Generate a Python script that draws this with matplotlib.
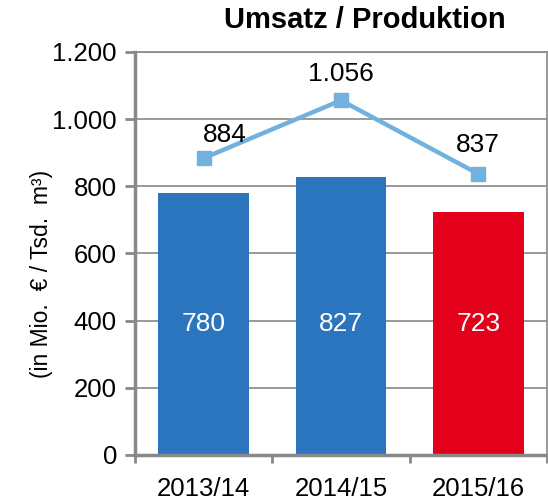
import matplotlib.pyplot as plt
from matplotlib.ticker import FuncFormatter

plt.rcParams['font.family'] = ['Liberation Sans', 'DejaVu Sans']

# Data
years = ["2013/14", "2014/15", "2015/16"]
umsatz = [780, 827, 723]
produktion = [884, 1056, 837]
bar_colors = ["#2a75be", "#2a75be", "#e2001a"]


def de_fmt(v, pos=None):
    return f"{int(v):,}".replace(",", ".")


fig = plt.figure(figsize=(5.48, 5.01), dpi=100)
ax = fig.add_axes([135 / 548, 46 / 501, 412 / 548, 403 / 501])

x = range(len(years))
ax.bar(x, umsatz, width=0.66, color=bar_colors, zorder=2)
ax.plot(x, produktion, color="#72b1de", lw=3.2, marker="s", ms=10, zorder=3)

for i, v in enumerate(umsatz):
    ax.text(i, 390, de_fmt(v), ha="center", va="center", color="white", fontsize=19)

label_dx = [15, 0, 0]
label_dy = [17, 19, 21]
for i, v in enumerate(produktion):
    ax.annotate(de_fmt(v), (i, v), xytext=(label_dx[i], label_dy[i]),
                textcoords="offset points", ha="center", va="center", fontsize=19)

ax.set_xlim(-0.5, 2.5)
ax.set_ylim(0, 1200)
ax.set_yticks(range(0, 1201, 200))
ax.yaxis.set_major_formatter(FuncFormatter(de_fmt))
ax.yaxis.grid(True, color="#888888", lw=1.2, zorder=0)

ax.set_xticks(list(x))
ax.set_xticklabels(years)
ax.set_xticks([-0.5, 0.5, 1.5, 2.5], minor=True)
ax.tick_params(axis="x", which="major", length=0, pad=16, labelsize=18.5)
ax.tick_params(axis="x", which="minor", length=6, width=2, color="#888888")
ax.tick_params(axis="y", length=7, width=2, color="#888888", labelsize=18.5, pad=6)

for name, sp in ax.spines.items():
    sp.set_color("#888888")
    sp.set_linewidth(2.5 if name in ("left", "bottom") else 1.2)

ax.set_ylabel("(in Mio.  € / Tsd.  m³)", fontsize=16.5, va="center")
ax.yaxis.set_label_coords(-0.228, 0.45)
fig.text(365 / 548, 481 / 501, "Umsatz / Produktion", ha="center", va="center",
         fontsize=21, fontweight="bold")

fig.savefig("out.png", dpi=100)
